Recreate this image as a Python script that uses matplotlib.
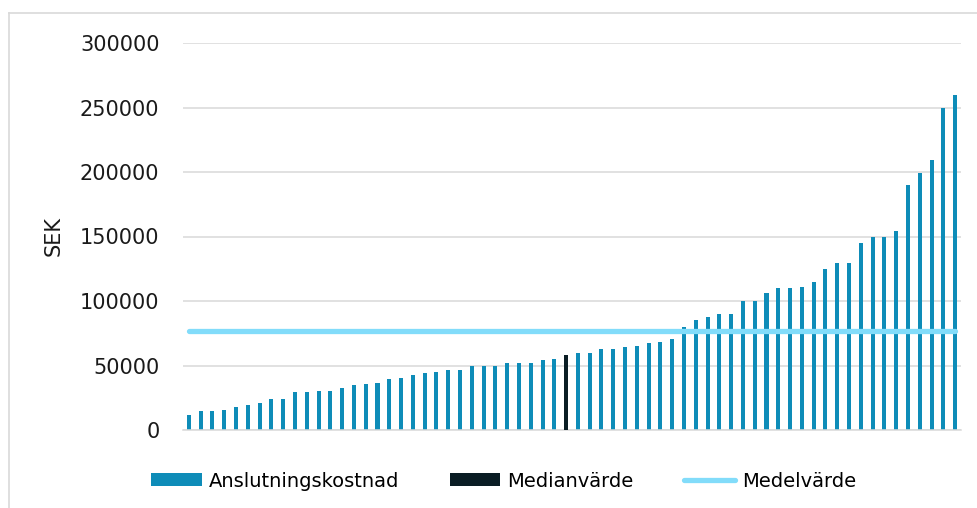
import matplotlib.pyplot as plt
from matplotlib.lines import Line2D
from matplotlib.patches import Patch
import numpy as np

# Anslutningskostnad per objekt, sorterade stigande (SEK)
costs = [
    11800, 14600, 14600, 15400, 17700, 19500, 21100, 24400, 24400, 29300,
    29800, 30400, 30600, 32400, 34700, 35800, 36600, 39700, 40500, 43000,
    43800, 44800, 46400, 46600, 49500, 49500, 49500, 51800, 51800, 51800,
    54400, 55400, 57800, 59900, 59900, 62500, 62500, 64100, 65400, 67200,
    68200, 70300, 79600, 85000, 87800, 90200, 90200, 100000, 100000, 106000,
    109800, 109800, 110600, 114700, 124700, 129600, 129600, 144800, 149700, 149700,
    154300, 189600, 199600, 209400, 249500, 259500,
]
median_index = 32
yticks = [0, 50000, 100000, 150000, 200000, 250000, 300000]
labels = ["Anslutningskostnad", "Medianvärde", "Medelvärde"]

bar_color = "#0e8cb8"
median_color = "#0a1d24"
mean_color = "#82dcfa"
grid_color = "#d9d9d9"

plt.rcParams["font.family"] = "DejaVu Sans"

fig = plt.figure(figsize=(9.78, 5.08), dpi=100)
W, H = 978, 508
ax = fig.add_axes([183 / W, (H - 430) / H, (961 - 183) / W, (430 - 43) / H])

x = np.arange(len(costs))
median_vals = [c if i == median_index else 0 for i, c in enumerate(costs)]
mean_val = float(np.mean(costs))

ax.bar(x, costs, width=0.34, color=bar_color, zorder=2)
ax.bar(x, median_vals, width=0.34, color=median_color, zorder=3)
ax.plot([x[0], x[-1]], [mean_val, mean_val], color=mean_color, linewidth=3.8,
        solid_capstyle="round", zorder=4)

ax.set_xlim(-0.5, len(costs) - 0.5)
ax.set_ylim(0, 300000)
ax.set_yticks(yticks)
ax.set_yticklabels([str(v) for v in yticks], fontsize=15, color="#1a1a1a")
ax.set_xticks([])
ax.tick_params(axis="y", length=0, pad=17)
ax.grid(axis="y", color=grid_color, linewidth=1.1, zorder=0)
for side in ["top", "right", "left"]:
    ax.spines[side].set_visible(False)
ax.spines["bottom"].set_color(grid_color)
ax.spines["bottom"].set_linewidth(1.1)
ax.set_ylabel("SEK", fontsize=15, labelpad=12, color="#1a1a1a")

handles = [
    Patch(facecolor=bar_color, edgecolor="none"),
    Patch(facecolor=median_color, edgecolor="none"),
    Line2D([0], [0], color=mean_color, linewidth=3.8, solid_capstyle="round"),
]
fig.legend(handles, labels, loc="center", bbox_to_anchor=(0.515, 0.053), ncol=3,
           frameon=False, fontsize=14, handlelength=2.6, handleheight=0.67,
           handletextpad=0.36, columnspacing=2.6)

# ram runt diagramområdet
fig.add_artist(Line2D([9 / W, 9 / W], [0, (H - 13) / H], color=grid_color, linewidth=1.2))
fig.add_artist(Line2D([9 / W, 1], [(H - 13) / H, (H - 13) / H], color=grid_color, linewidth=1.2))

fig.savefig("out.png", dpi=100)
